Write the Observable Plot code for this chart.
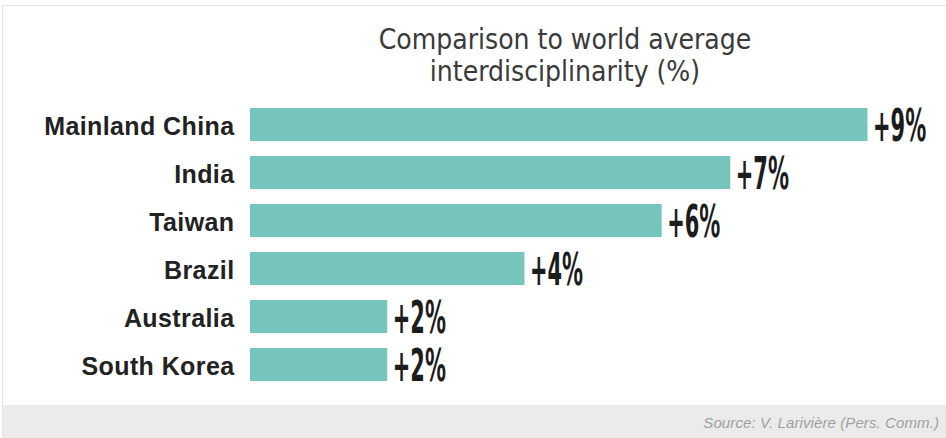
<!DOCTYPE html>
<html>
<head>
<meta charset="utf-8">
<script src="https://cdn.jsdelivr.net/npm/d3@7"></script>
<script src="https://cdn.jsdelivr.net/npm/@observablehq/plot@0.6"></script>
<style>
  html, body { margin: 0; padding: 0; background: #ffffff; }
  #wrap { position: relative; width: 946px; height: 438px; overflow: hidden; background: #fff; }
  #frame { position: absolute; left: 2px; top: 5px; width: 960px; height: 450px; border: 1px solid #e4e4e4; background: #fff; box-sizing: border-box; }
  #footer { position: absolute; left: 3px; top: 405px; width: 950px; height: 40px; background: #ebebeb; }
  #source { position: absolute; right: 7px; top: 414px; font-family: "Liberation Sans", Arial, sans-serif; font-style: italic; font-size: 15px; color: #a0a0a0; letter-spacing: 0.1px; }
  #title { position: absolute; left: 265px; width: 600px; top: 24px; text-align: center; font-family: "Liberation Sans Narrow", "DejaVu Sans Condensed", sans-serif; font-size: 28px; line-height: 32px; color: #3a3a3a; }
  #chart { position: absolute; left: 0; top: 0; }
</style>
</head>
<body>
<div id="wrap">
  <div id="frame"></div>
  <div id="footer"></div>
  <div id="source">Source: V. Larivière (Pers. Comm.)</div>
  <div id="chart"></div>
  <div id="title">Comparison to world average<br>interdisciplinarity (%)</div>
</div>
<script>
const countries = ["Mainland China", "India", "Taiwan", "Brazil", "Australia", "South Korea"];
const values = [9, 7, 6, 4, 2, 2];
const labels = ["+9%", "+7%", "+6%", "+4%", "+2%", "+2%"];

const data = countries.map((c, i) => ({country: c, value: values[i], label: labels[i]}));

const chart = Plot.plot({
  width: 946,
  height: 438,
  marginLeft: 250,
  marginRight: 78.5,
  marginTop: 90.4,
  marginBottom: 39.4,
  style: {background: "transparent", overflow: "visible"},
  x: {domain: [0, 9], axis: null},
  y: {domain: countries, padding: 0.32, label: null},
  marks: [
    Plot.barX(data, {x: "value", y: "country", fill: "#75c5bd"}),
    Plot.axisY({
      tickSize: 0,
      tickPadding: 16,
      dy: 2,
      fontSize: 25,
      fontWeight: "bold",
      fontFamily: "'Liberation Sans', Arial, sans-serif",
      fill: "#222222",
      label: null,
      className: "ylab"
    }),
    Plot.text(data, {
      x: "value", y: "country", text: "label",
      textAnchor: "start", dx: 5, dy: 2,
      fontSize: 44, fontWeight: "bold",
      fontFamily: "'Liberation Sans Narrow', 'DejaVu Sans Condensed', sans-serif",
      fill: "#1c1c1c",
      className: "val"
    })
  ]
});
document.getElementById("chart").appendChild(chart);
chart.querySelectorAll("g.ylab text").forEach(t => t.setAttribute("letter-spacing", "0.4"));

// horizontally condense the value labels around their own anchor
chart.querySelectorAll("g.val text").forEach(t => {
  const tr = t.getAttribute("transform");
  if (tr) {
    t.setAttribute("transform", tr + " scale(0.53,1)");
  } else {
    const x = +t.getAttribute("x") || 0, y = +t.getAttribute("y") || 0;
    t.removeAttribute("x"); t.removeAttribute("y");
    t.setAttribute("transform", `translate(${x},${y}) scale(0.53,1)`);
  }
});
</script>
</body>
</html>
